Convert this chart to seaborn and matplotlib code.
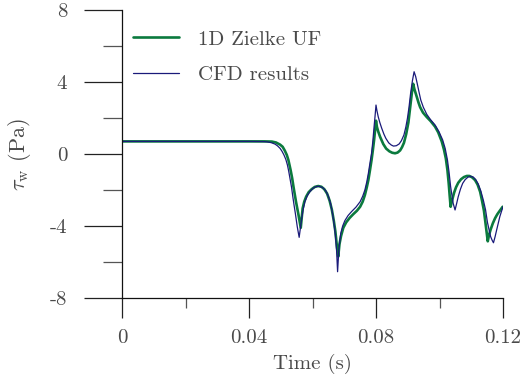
import matplotlib
matplotlib.use("Agg")
import matplotlib.pyplot as plt
import seaborn as sns
import pandas as pd

# 1D Zielke unsteady-friction model: wall shear stress vs time
t_zielke = [0.000, 0.030, 0.040, 0.045, 0.0472, 0.0485, 0.0498, 0.0506, 0.0513,
            0.0519, 0.0524, 0.0531, 0.0536, 0.0540, 0.0548, 0.0556, 0.0563,
            0.0566, 0.0569, 0.0574, 0.0580, 0.0588, 0.0597, 0.0607, 0.0618,
            0.0628, 0.0637, 0.0646, 0.0654, 0.0661, 0.0667, 0.0672, 0.0677,
            0.0681, 0.0685, 0.0690, 0.0697, 0.0706, 0.0717, 0.0728, 0.0740,
            0.0750, 0.0758, 0.0765, 0.0771, 0.0776, 0.0781, 0.0786, 0.0790,
            0.0794, 0.0797, 0.0800, 0.0803, 0.0807, 0.0813, 0.0823, 0.0832,
            0.0842, 0.0851, 0.0860, 0.0868, 0.0876, 0.0882, 0.0888, 0.0895,
            0.0902, 0.0909, 0.0913, 0.0917, 0.0921, 0.0928, 0.0934, 0.0939,
            0.0948, 0.0960, 0.0972, 0.0986, 0.0996, 0.1007, 0.1014, 0.1020,
            0.1025, 0.1029, 0.1032, 0.1035, 0.1040, 0.1046, 0.1052, 0.1059,
            0.1068, 0.1077, 0.1086, 0.1094, 0.1103, 0.1112, 0.1120, 0.1128,
            0.1134, 0.1140, 0.1146, 0.1152, 0.1156, 0.1161, 0.1168, 0.1175,
            0.1182, 0.1190, 0.1199]
tau_zielke = [0.70, 0.70, 0.70, 0.70, 0.69, 0.64, 0.52, 0.40, 0.18,
              -0.05, -0.33, -0.89, -1.35, -1.81, -2.65, -3.39, -4.10,
              -3.55, -3.02, -2.65, -2.37, -2.12, -1.96, -1.83, -1.78,
              -1.82, -1.95, -2.20, -2.60, -3.10, -3.70, -4.30, -5.15,
              -5.70, -5.00, -4.55, -4.10, -3.80, -3.55, -3.35, -3.15,
              -2.93, -2.65, -2.28, -1.85, -1.44, -0.90, -0.33, 0.20,
              0.78, 1.30, 1.85, 1.50, 1.25, 0.95, 0.55, 0.30,
              0.15, 0.07, 0.04, 0.08, 0.20, 0.38, 0.62, 1.10,
              1.75, 2.80, 3.40, 3.90, 3.60, 3.20, 2.85, 2.60,
              2.30, 2.05, 1.83, 1.52, 1.20, 0.70, 0.25, -0.25,
              -0.90, -1.63, -2.30, -2.93, -2.55, -2.15, -1.85, -1.60,
              -1.40, -1.28, -1.22, -1.22, -1.30, -1.45, -1.70, -2.10,
              -2.60, -3.15, -4.00, -4.85, -4.50, -4.20, -3.85, -3.57,
              -3.35, -3.15, -2.93]

# CFD results
t_cfd = [0.000, 0.040, 0.0445, 0.0456, 0.0470, 0.0482, 0.0490, 0.0498, 0.0504,
         0.0510, 0.0516, 0.0521, 0.0525, 0.0529, 0.0534, 0.0538, 0.0542,
         0.0546, 0.0552, 0.0558, 0.0562, 0.0566, 0.0571, 0.0576, 0.0584,
         0.0592, 0.0602, 0.0613, 0.0623, 0.0633, 0.0642, 0.0650, 0.0657,
         0.0663, 0.0668, 0.0672, 0.0676, 0.0679, 0.0683, 0.0689, 0.0695,
         0.0702, 0.0712, 0.0723, 0.0737, 0.0750, 0.0758, 0.0765, 0.0771,
         0.0776, 0.0781, 0.0786, 0.0790, 0.0794, 0.0797, 0.0800, 0.0803,
         0.0807, 0.0812, 0.0818, 0.0825, 0.0831, 0.0840, 0.0848, 0.0855,
         0.0864, 0.0873, 0.0880, 0.0888, 0.0894, 0.0899, 0.0904, 0.0909,
         0.0915, 0.0920, 0.0925, 0.0930, 0.0936, 0.0941, 0.0949, 0.0960,
         0.0972, 0.0986, 0.0998, 0.1010, 0.1018, 0.1025, 0.1030, 0.1035,
         0.1040, 0.1043, 0.1049, 0.1054, 0.1059, 0.1066, 0.1073, 0.1081,
         0.1090, 0.1098, 0.1106, 0.1114, 0.1122, 0.1130, 0.1138, 0.1145,
         0.1151, 0.1156, 0.1161, 0.1166, 0.1170, 0.1175, 0.1180, 0.1185,
         0.1190, 0.1195, 0.1200]
tau_cfd = [0.70, 0.70, 0.69, 0.68, 0.63, 0.55, 0.45, 0.31, 0.15,
           -0.05, -0.30, -0.61, -0.95, -1.35, -1.85, -2.37, -2.85,
           -3.30, -4.04, -4.63, -4.10, -3.57, -3.05, -2.65, -2.30,
           -2.09, -1.90, -1.80, -1.80, -1.88, -2.05, -2.35, -2.75,
           -3.30, -3.90, -4.50, -5.40, -6.54, -5.30, -4.41, -4.00,
           -3.70, -3.42, -3.20, -2.95, -2.65, -2.35, -2.00, -1.55,
           -1.07, -0.50, 0.04, 0.70, 1.52, 2.10, 2.72, 2.40,
           2.07, 1.75, 1.43, 1.10, 0.87, 0.62, 0.50, 0.44,
           0.46, 0.56, 0.74, 1.06, 1.50, 1.98, 2.60, 3.37,
           4.10, 4.57, 4.30, 3.90, 3.40, 3.00, 2.60, 2.20,
           1.90, 1.61, 1.25, 0.78, 0.30, -0.33, -1.00, -1.81,
           -2.40, -2.74, -3.11, -2.75, -2.37, -1.95, -1.63, -1.42,
           -1.28, -1.24, -1.28, -1.42, -1.67, -2.05, -2.56, -3.10,
           -3.80, -4.20, -4.59, -4.80, -4.93, -4.60, -4.22, -3.85,
           -3.48, -3.20, -2.93]

x_major = [0, 0.04, 0.08, 0.12]
x_major_labels = ["0", "0.04", "0.08", "0.12"]
x_minor = [0.02, 0.06, 0.10]
y_major = [-8, -4, 0, 4, 8]
y_major_labels = ["-8", "-4", "0", "4", "8"]
y_minor = [-6, -2, 2, 6]

sns.set_style("ticks")
plt.rcParams["font.family"] = ["cmr10", "DejaVu Serif"]
plt.rcParams["mathtext.fontset"] = "cm"
plt.rcParams["axes.unicode_minus"] = False

text_color = "#4a4a4a"
green = "#0b7a3e"
navy = "#1a1a7a"

fig = plt.figure(figsize=(5.23, 3.80), dpi=100)
ax = fig.add_axes([122 / 523, 82 / 380, 381 / 523, 288 / 380])

df_z = pd.DataFrame({"t": t_zielke, "tau": tau_zielke})
df_c = pd.DataFrame({"t": t_cfd, "tau": tau_cfd})
sns.lineplot(data=df_z, x="t", y="tau", ax=ax, color=green, linewidth=1.9,
             label="1D Zielke UF", sort=False)
sns.lineplot(data=df_c, x="t", y="tau", ax=ax, color=navy, linewidth=0.9,
             label="CFD results", sort=False)

ax.set_xlim(0, 0.12)
ax.set_ylim(-8, 8)
ax.set_xticks(x_major)
ax.set_xticklabels(x_major_labels)
ax.set_xticks(x_minor, minor=True)
ax.set_yticks(y_major)
ax.set_yticklabels(y_major_labels)
ax.set_yticks(y_minor, minor=True)

for side in ("top", "right"):
    ax.spines[side].set_visible(False)
for side in ("left", "bottom"):
    ax.spines[side].set_linewidth(0.9)
    ax.spines[side].set_color("#111111")

ax.tick_params(axis="y", which="major", direction="out", length=27.5, width=0.9,
               color="#222222", pad=12, labelsize=15, labelcolor=text_color)
ax.tick_params(axis="y", which="minor", direction="out", length=13.7, width=0.9,
               color="#555555")
ax.tick_params(axis="x", which="major", direction="out", length=14.4, width=0.9,
               color="#222222", pad=8, labelsize=15, labelcolor=text_color)
ax.tick_params(axis="x", which="minor", direction="out", length=7.2, width=0.9,
               color="#555555")

ax.set_xlabel("Time (s)", fontsize=15, color=text_color, labelpad=5)
ax.set_ylabel(r"$\tau_\mathrm{w}$ (Pa)", fontsize=16, color=text_color, labelpad=12)

leg = ax.legend(loc="upper left", bbox_to_anchor=(0.03, 0.93), frameon=False,
                fontsize=15, handlelength=2.2, handletextpad=0.9,
                labelspacing=0.8, borderpad=0, borderaxespad=0)
for txt in leg.get_texts():
    txt.set_color(text_color)

fig.savefig("out.png", dpi=100)
